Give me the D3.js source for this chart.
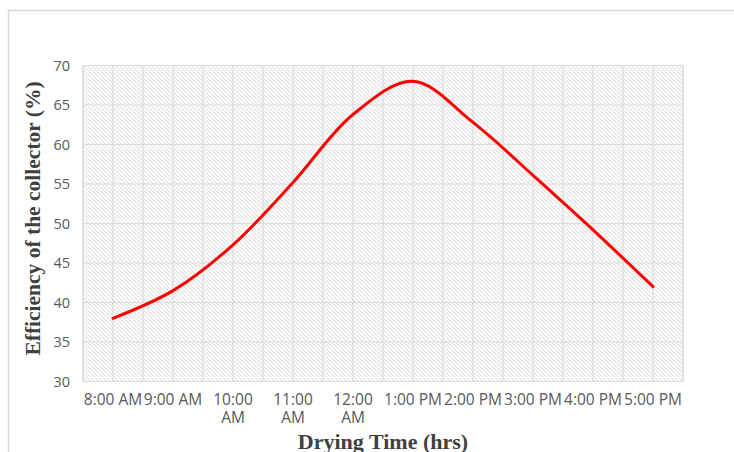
<!DOCTYPE html>
<html>
<head>
<meta charset="utf-8">
<script src="https://cdn.jsdelivr.net/npm/d3@7"></script>
<style>
  body { margin: 0; background: #fff; }
  svg { display: block; }
</style>
</head>
<body>
<svg id="chart" width="734" height="452"></svg>
<script>
// values
const times = ["8:00 AM", "9:00 AM", "10:00 AM", "11:00 AM", "12:00 AM",
  "1:00 PM", "2:00 PM", "3:00 PM", "4:00 PM", "5:00 PM"];
const efficiency = [38, 41.5, 47.3, 55.2, 63.8, 68, 62.8, 56.1, 49.2, 42];
const yTicks = [30, 35, 40, 45, 50, 55, 60, 65, 70];

const svg = d3.select("#chart");
const margin = { left: 83, top: 65.5, right: 734 - 683, bottom: 452 - 381.5 };
const width = 734 - margin.left - margin.right;
const height = 452 - margin.top - margin.bottom;
const gridColor = "#dcdcdc";
const labelColor = "#595959";

// chart frame
svg.append("path")
  .attr("d", "M8.5,452 V10.5 H734")
  .attr("fill", "none")
  .attr("stroke", "#d9d9d9")
  .attr("stroke-width", 1.5);

// hatch pattern for the plot area
const pattern = svg.append("defs").append("pattern")
  .attr("id", "hatch")
  .attr("patternUnits", "userSpaceOnUse")
  .attr("width", 4)
  .attr("height", 4);
pattern.append("rect").attr("width", 4).attr("height", 4).attr("fill", "#fff");
pattern.append("path")
  .attr("d", "M-1,-1 L5,5 M-1,3 L1,5 M3,-1 L5,1")
  .attr("stroke", "#d3d3d3")
  .attr("stroke-width", 1);

const g = svg.append("g").attr("transform", `translate(${margin.left},${margin.top})`);

const x = d3.scaleBand().domain(times).range([0, width]);
const y = d3.scaleLinear().domain([30, 70]).range([height, 0]);

g.append("rect")
  .attr("width", width)
  .attr("height", height)
  .attr("fill", "url(#hatch)");

// vertical gridlines at category edges and centres
const vLines = [];
times.forEach((t) => {
  vLines.push(x(t));
  vLines.push(x(t) + x.bandwidth() / 2);
});
vLines.push(width);

g.append("g")
  .selectAll("line")
  .data(vLines)
  .join("line")
  .attr("x1", (d) => d)
  .attr("x2", (d) => d)
  .attr("y1", 0)
  .attr("y2", height)
  .attr("stroke", gridColor)
  .attr("stroke-width", 1.2);

g.append("g")
  .selectAll("line")
  .data(yTicks)
  .join("line")
  .attr("x1", 0)
  .attr("x2", width)
  .attr("y1", (d) => y(d))
  .attr("y2", (d) => y(d))
  .attr("stroke", gridColor)
  .attr("stroke-width", 1.2);

g.append("rect")
  .attr("width", width)
  .attr("height", height)
  .attr("fill", "none")
  .attr("stroke", gridColor)
  .attr("stroke-width", 1.2);

// y axis labels
const yAxis = g.append("g")
  .call(d3.axisLeft(y).tickValues(yTicks).tickSize(0).tickPadding(13));
yAxis.select(".domain").remove();
yAxis.selectAll("text")
  .attr("fill", labelColor)
  .style("font-family", "'Open Sans', sans-serif")
  .style("font-size", "14.5px");

// x axis labels, wrapped when wider than a category
const xAxis = g.append("g")
  .attr("transform", `translate(0,${height})`)
  .call(d3.axisBottom(x).tickSize(0).tickPadding(12));
xAxis.select(".domain").remove();
xAxis.selectAll("text")
  .attr("fill", labelColor)
  .style("font-family", "'Open Sans', sans-serif")
  .style("font-size", "15.5px")
  .each(function (d) {
    const text = d3.select(this);
    if (this.getComputedTextLength() > x.bandwidth()) {
      const parts = d.split(" ");
      const dy = text.attr("dy");
      text.text(null);
      text.append("tspan").attr("x", 0).attr("dy", dy).text(parts[0]);
      text.append("tspan").attr("x", 0).attr("dy", "1.2em").text(parts.slice(1).join(" "));
    }
  });

// the curve
const line = d3.line()
  .x((d, i) => x(times[i]) + x.bandwidth() / 2)
  .y((d) => y(d))
  .curve(d3.curveCatmullRom.alpha(0.5));

g.append("path")
  .datum(efficiency)
  .attr("d", line)
  .attr("fill", "none")
  .attr("stroke", "#ff0000")
  .attr("stroke-width", 3)
  .attr("stroke-linecap", "round");

// axis titles
svg.append("text")
  .attr("transform", `translate(40,${margin.top + height / 2 - 5}) rotate(-90)`)
  .attr("text-anchor", "middle")
  .attr("fill", "#404040")
  .style("font-family", "'Liberation Serif', 'Times New Roman', serif")
  .style("font-weight", "bold")
  .style("font-size", "21.5px")
  .text("Efficiency of the collector (%)");

svg.append("text")
  .attr("x", 383)
  .attr("y", 449)
  .attr("text-anchor", "middle")
  .attr("fill", "#404040")
  .style("font-family", "'Liberation Serif', 'Times New Roman', serif")
  .style("font-weight", "bold")
  .style("font-size", "22px")
  .text("Drying Time (hrs)");
</script>
</body>
</html>
